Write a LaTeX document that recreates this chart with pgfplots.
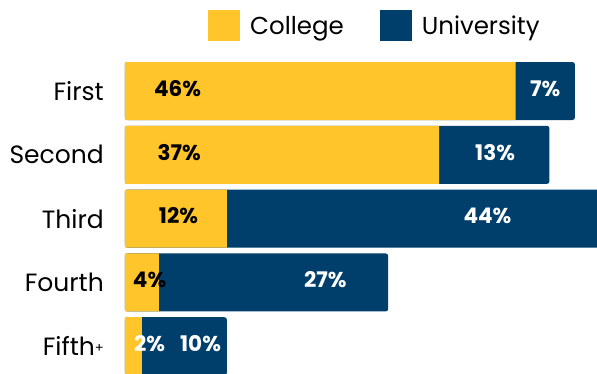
\documentclass[border=0pt]{standalone}
\usepackage{fontspec}
\setmainfont{Poppins}
\usepackage{pgfplots}
\usepackage{pgfplotstable}
\pgfplotsset{compat=1.18}
\definecolor{college}{HTML}{FFC52B}
\definecolor{univ}{HTML}{003F6B}
\tikzset{val/.style={font=\bfseries\fontsize{21.5}{21.5}\selectfont}}

% y: position (0 = Fifth+), c: college %, u: university %
\pgfplotstableread{
y c u
0 2 10
1 4 27
2 12 44
3 37 13
4 46 7
}\data

\begin{document}
\begin{tikzpicture}[x=1pt,y=1pt]
\path[use as bounding box] (0,0) rectangle (597,373);
\begin{axis}[
  at={(125pt,0pt)}, anchor=south west,
  scale only axis, width=472pt, height=318pt,
  xbar, bar width=58pt,
  xmin=0, xmax=55.6, ymin=-0.42, ymax=4.565,
  axis line style={draw=none},
  xtick=\empty,
  ytick={0,1,2,3,4},
  yticklabels={Fifth{\raisebox{3pt}{\fontsize{13}{13}\selectfont +}}, Fourth, Third, Second, First},
  major tick length=0pt,
  yticklabel style={font=\fontsize{25}{25}\selectfont, inner sep=0pt, xshift=-21pt},
  legend image code/.code={\fill[#1] (0pt,-15.5pt) rectangle (32pt,15.5pt);},
  legend style={at={(axis description cs:0,1)}, anchor=north west,
    xshift=83pt, yshift=45pt, draw=none, fill=none, inner sep=0pt,
    font=\fontsize{24.5}{24.5}\selectfont,
    /tikz/every odd column/.append style={column sep=8pt},
    /tikz/every even column/.append style={column sep=34pt}},
  legend columns=2,
  legend cell align=left,
]
% university segment drawn from 0 to the total, college drawn over it
\addplot[forget plot, fill=univ, draw=none, bar shift=0pt, rounded corners=2.5pt]
  table[x expr=\thisrow{c}+\thisrow{u}, y=y]{\data};
\addplot[forget plot, fill=college, draw=none, bar shift=0pt]
  table[x=c, y=y]{\data};
\addlegendimage{fill=college, draw=none}
\addlegendentry{College}
\addlegendimage{fill=univ, draw=none}
\addlegendentry{University}

\node[val,black] at (axis cs:6.2,4.04) {46\%};
\node[val,black] at (axis cs:6.4,3.04) {37\%};
\node[val,black] at (axis cs:6.3,2.04) {12\%};
\node[val,black] at (axis cs:2.9,1.04) {4\%};
\node[val,white] at (axis cs:2.9,0.04) {2\%};
\node[val,white] at (axis cs:49.5,4.04) {7\%};
\node[val,white] at (axis cs:43.6,3.04) {13\%};
\node[val,white] at (axis cs:42.7,2.04) {44\%};
\node[val,white] at (axis cs:23.6,1.04) {27\%};
\node[val,white] at (axis cs:8.9,0.04) {10\%};
\end{axis}
\end{tikzpicture}
\end{document}
